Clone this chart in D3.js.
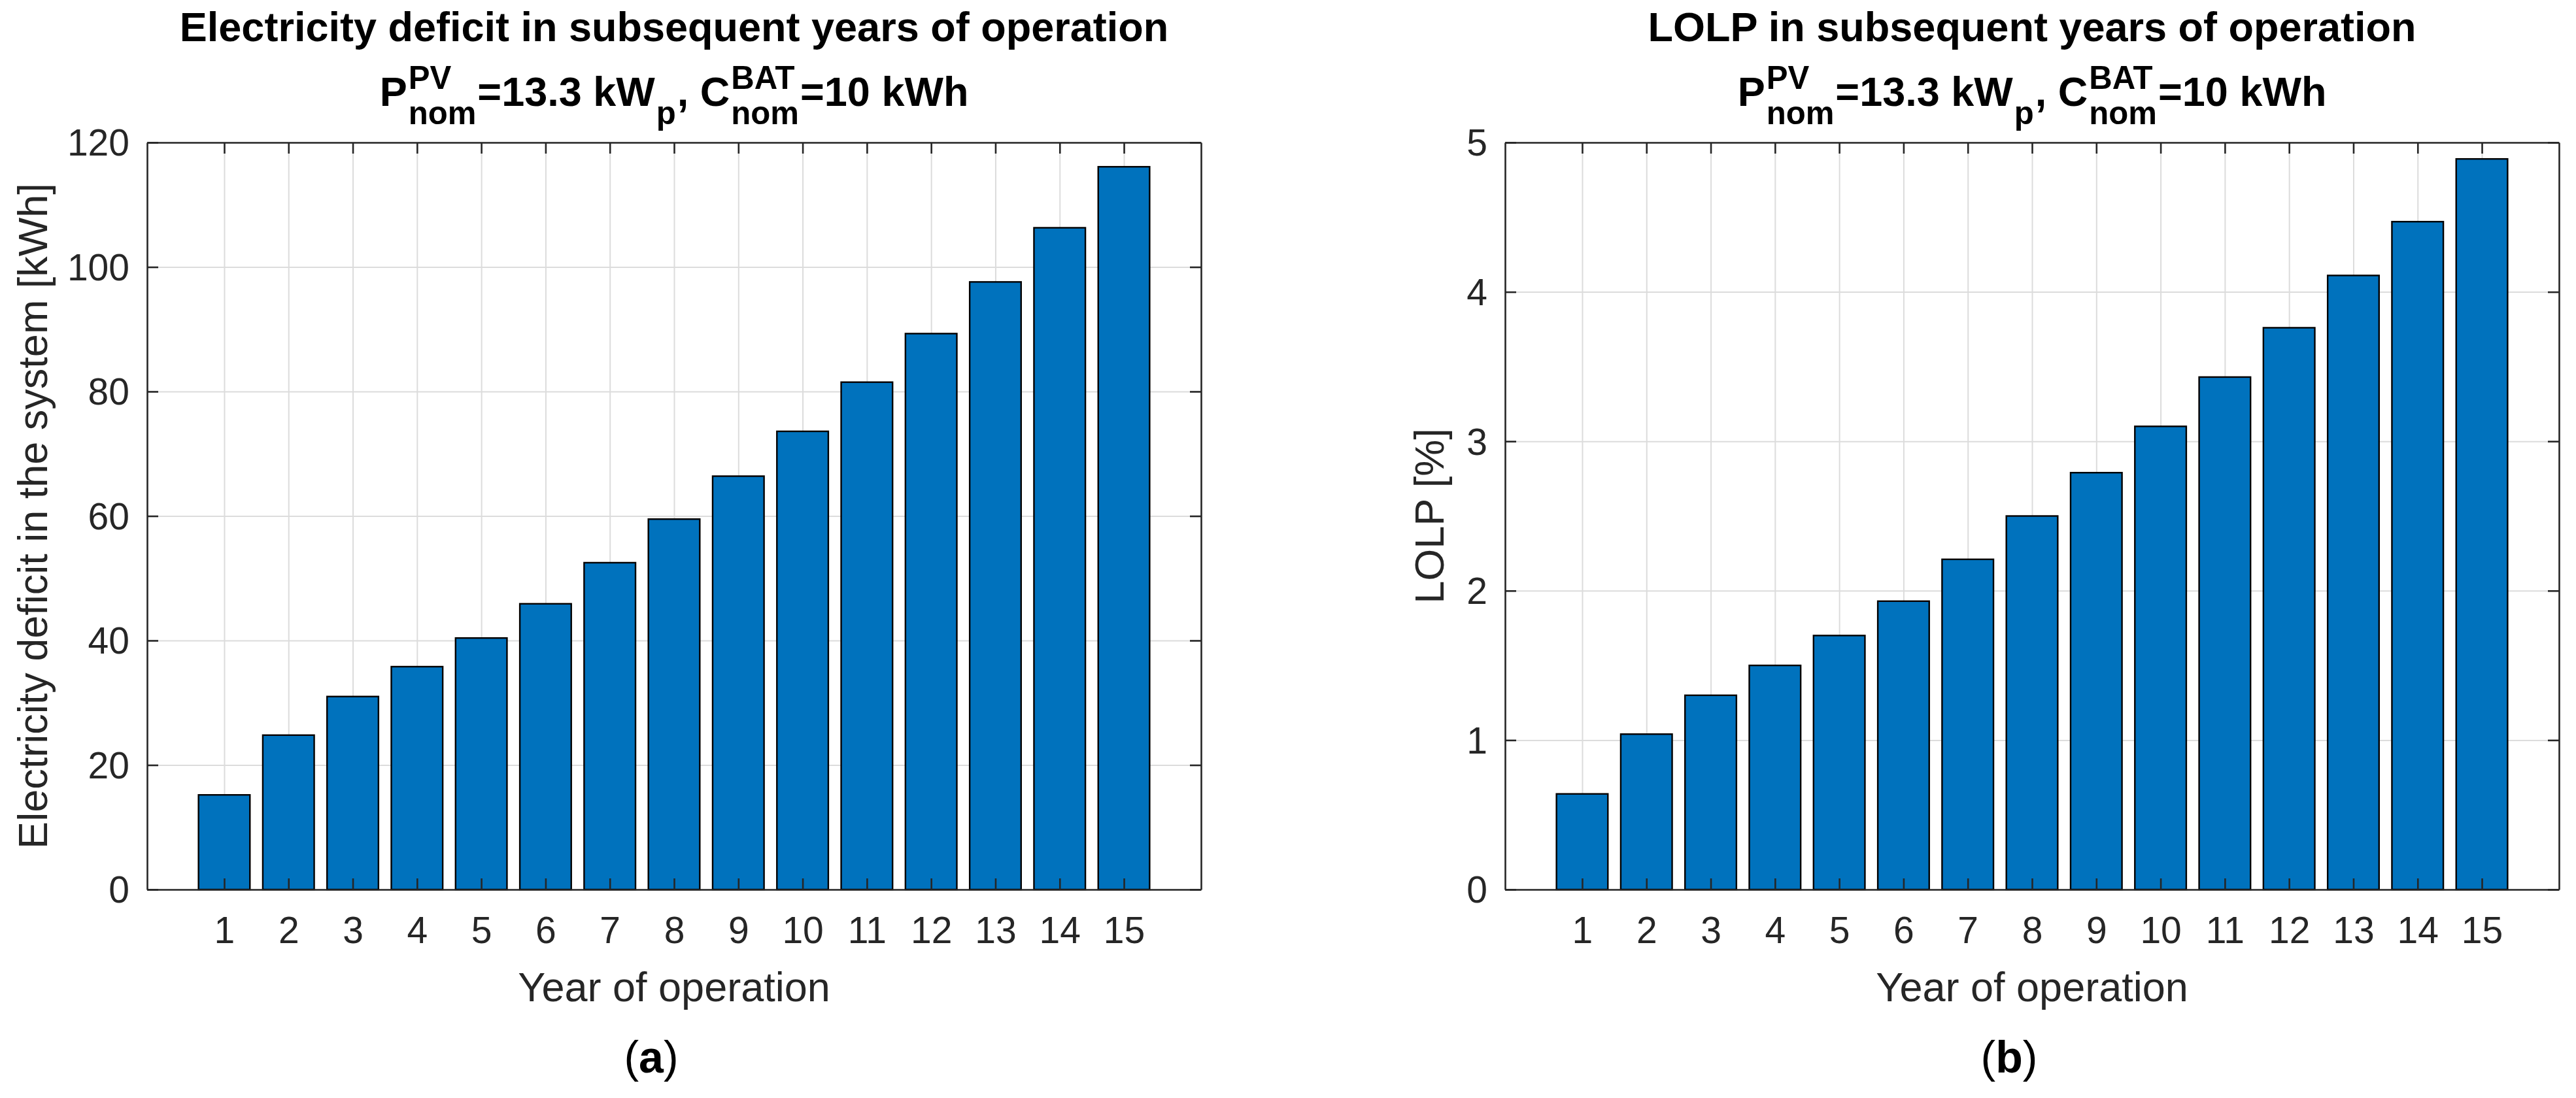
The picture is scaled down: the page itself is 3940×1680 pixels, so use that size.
<!DOCTYPE html>
<html>
<head>
<meta charset="utf-8">
<script src="https://cdn.jsdelivr.net/npm/d3@7"></script>
<style>
  body { margin: 0; background: #fff; }
  text { font-family: "Liberation Sans", Arial, Helvetica, sans-serif; }
</style>
</head>
<body>
<script>
// chart data
var years = [1, 2, 3, 4, 5, 6, 7, 8, 9, 10, 11, 12, 13, 14, 15];
var deficit = [15.2, 24.8, 31.0, 35.8, 40.4, 45.9, 52.5, 59.5, 66.4, 73.6, 81.5, 89.3, 97.6, 106.3, 116.1];
var lolp = [0.64, 1.04, 1.30, 1.50, 1.70, 1.93, 2.21, 2.50, 2.79, 3.10, 3.43, 3.76, 4.11, 4.47, 4.89];
var deficitTicks = [0, 20, 40, 60, 80, 100, 120];
var lolpTicks = [0, 1, 2, 3, 4, 5];

var svgWidth = 3940;
var svgHeight = 1680;

var plotW = 1612;
var plotH = 1143;
var plotTop = 218;

var tickFont = 57;
var labelFont = 63;
var titleFont = 63;
var axisColor = "#262626";
var barColor = "#0072BD";

var svg = d3.select("body")
  .append("svg")
  .attr("width", svgWidth)
  .attr("height", svgHeight);

// draws one text line with stacked super/subscripts (like tex P_{nom}^{PV})
function mathLine(parent, cx, y, parts, size) {
  var g = parent.append("g");
  var x = 0;
  var small = size * 0.78;
  parts.forEach(function(p) {
    if (p.t) {
      var t = g.append("text").attr("x", x).attr("y", 0)
        .attr("font-size", size).attr("font-weight", "bold").text(p.t);
      x += t.node().getComputedTextLength();
    } else {
      var w = 0;
      if (p.sup) {
        var s = g.append("text").attr("x", x + 2).attr("y", -size * 0.42)
          .attr("font-size", small).attr("font-weight", "bold").text(p.sup);
        w = Math.max(w, s.node().getComputedTextLength());
      }
      if (p.sub) {
        var b = g.append("text").attr("x", x + 2).attr("y", size * 0.45)
          .attr("font-size", small).attr("font-weight", "bold").text(p.sub);
        w = Math.max(w, b.node().getComputedTextLength());
      }
      x += w + 4;
    }
  });
  g.attr("transform", "translate(" + (cx - x / 2) + "," + y + ")");
  return g;
}

function drawPanel(left, values, yTicks, yMax, title, yLabel, yLabelX, tag) {
  var group = svg.append("g")
    .attr("transform", "translate(" + left + "," + plotTop + ")");

  var xScale = d3.scaleLinear().domain([-0.2, 16.2]).range([0, plotW]);
  var yScale = d3.scaleLinear().domain([0, yMax]).range([plotH, 0]);

  // grid lines (below bars)
  var gridX = group.append("g")
    .attr("transform", "translate(0," + plotH + ")")
    .call(d3.axisBottom(xScale).tickValues(years).tickSize(-plotH).tickFormat(""));
  var gridY = group.append("g")
    .call(d3.axisLeft(yScale).tickValues(yTicks).tickSize(-plotW).tickFormat(""));
  [gridX, gridY].forEach(function(gr) {
    gr.select(".domain").remove();
    gr.selectAll("line").attr("stroke", "#dcdcdc").attr("stroke-width", 2);
  });

  // bars
  group.selectAll("rect.bar")
    .data(values)
    .enter()
    .append("rect")
    .attr("class", "bar")
    .attr("x", function(d, i) { return xScale(years[i] - 0.4); })
    .attr("width", xScale(0.8) - xScale(0))
    .attr("y", function(d) { return yScale(d); })
    .attr("height", function(d) { return plotH - yScale(d); })
    .attr("fill", barColor)
    .attr("stroke", "#000")
    .attr("stroke-width", 2.4);

  // axes with inward ticks on all four sides
  var bottomAxis = group.append("g")
    .attr("transform", "translate(0," + plotH + ")")
    .call(d3.axisBottom(xScale).tickValues(years).tickSizeInner(-17).tickSizeOuter(0).tickPadding(0).tickFormat(d3.format("d")));
  var topAxis = group.append("g")
    .call(d3.axisTop(xScale).tickValues(years).tickSizeInner(-17).tickSizeOuter(0).tickFormat(""));
  var leftAxis = group.append("g")
    .call(d3.axisLeft(yScale).tickValues(yTicks).tickSizeInner(-17).tickSizeOuter(0).tickPadding(0).tickFormat(d3.format("d")));
  var rightAxis = group.append("g")
    .attr("transform", "translate(" + plotW + ",0)")
    .call(d3.axisRight(yScale).tickValues(yTicks).tickSizeInner(-17).tickSizeOuter(0).tickFormat(""));

  [bottomAxis, topAxis, leftAxis, rightAxis].forEach(function(ax) {
    ax.select(".domain").attr("stroke", axisColor).attr("stroke-width", 2.6);
    ax.selectAll("line").attr("stroke", axisColor).attr("stroke-width", 2.6);
  });

  bottomAxis.selectAll("text")
    .attr("y", 82).attr("dy", null)
    .attr("font-size", tickFont).attr("fill", axisColor);
  leftAxis.selectAll("text")
    .attr("x", -27).attr("dy", "0.35em")
    .attr("font-size", tickFont).attr("fill", axisColor);

  // labels
  group.append("text")
    .attr("x", plotW / 2).attr("y", 1532 - plotTop)
    .attr("text-anchor", "middle")
    .attr("font-size", labelFont).attr("fill", axisColor)
    .text("Year of operation");

  group.append("text")
    .attr("transform", "translate(" + (yLabelX - left) + "," + (plotH / 2) + ") rotate(-90)")
    .attr("text-anchor", "middle")
    .attr("font-size", labelFont).attr("fill", axisColor)
    .text(yLabel);

  // title
  group.append("text")
    .attr("x", plotW / 2).attr("y", 63 - plotTop)
    .attr("text-anchor", "middle")
    .attr("font-size", titleFont).attr("font-weight", "bold")
    .text(title);

  mathLine(group, plotW / 2, 162 - plotTop, [
    { t: "P" }, { sup: "PV", sub: "nom" }, { t: "=13.3 kW" }, { sub: "p" },
    { t: ", C" }, { sup: "BAT", sub: "nom" }, { t: "=10 kWh" }
  ], titleFont);

  // panel tag
  var tagText = group.append("text")
    .attr("x", plotW / 2 - 35).attr("y", 1641 - plotTop)
    .attr("text-anchor", "middle")
    .attr("font-family", "'Liberation Serif', 'DejaVu Serif', serif")
    .attr("font-size", 68).attr("fill", "#000");
  tagText.append("tspan").text("(");
  tagText.append("tspan").attr("font-weight", "bold").text(tag);
  tagText.append("tspan").text(")");
}

drawPanel(225, deficit, deficitTicks, 120,
  "Electricity deficit in subsequent years of operation",
  "Electricity deficit in the system [kWh]", 72, "a");

drawPanel(2302, lolp, lolpTicks, 5,
  "LOLP in subsequent years of operation",
  "LOLP [%]", 2208, "b");
</script>
</body>
</html>
